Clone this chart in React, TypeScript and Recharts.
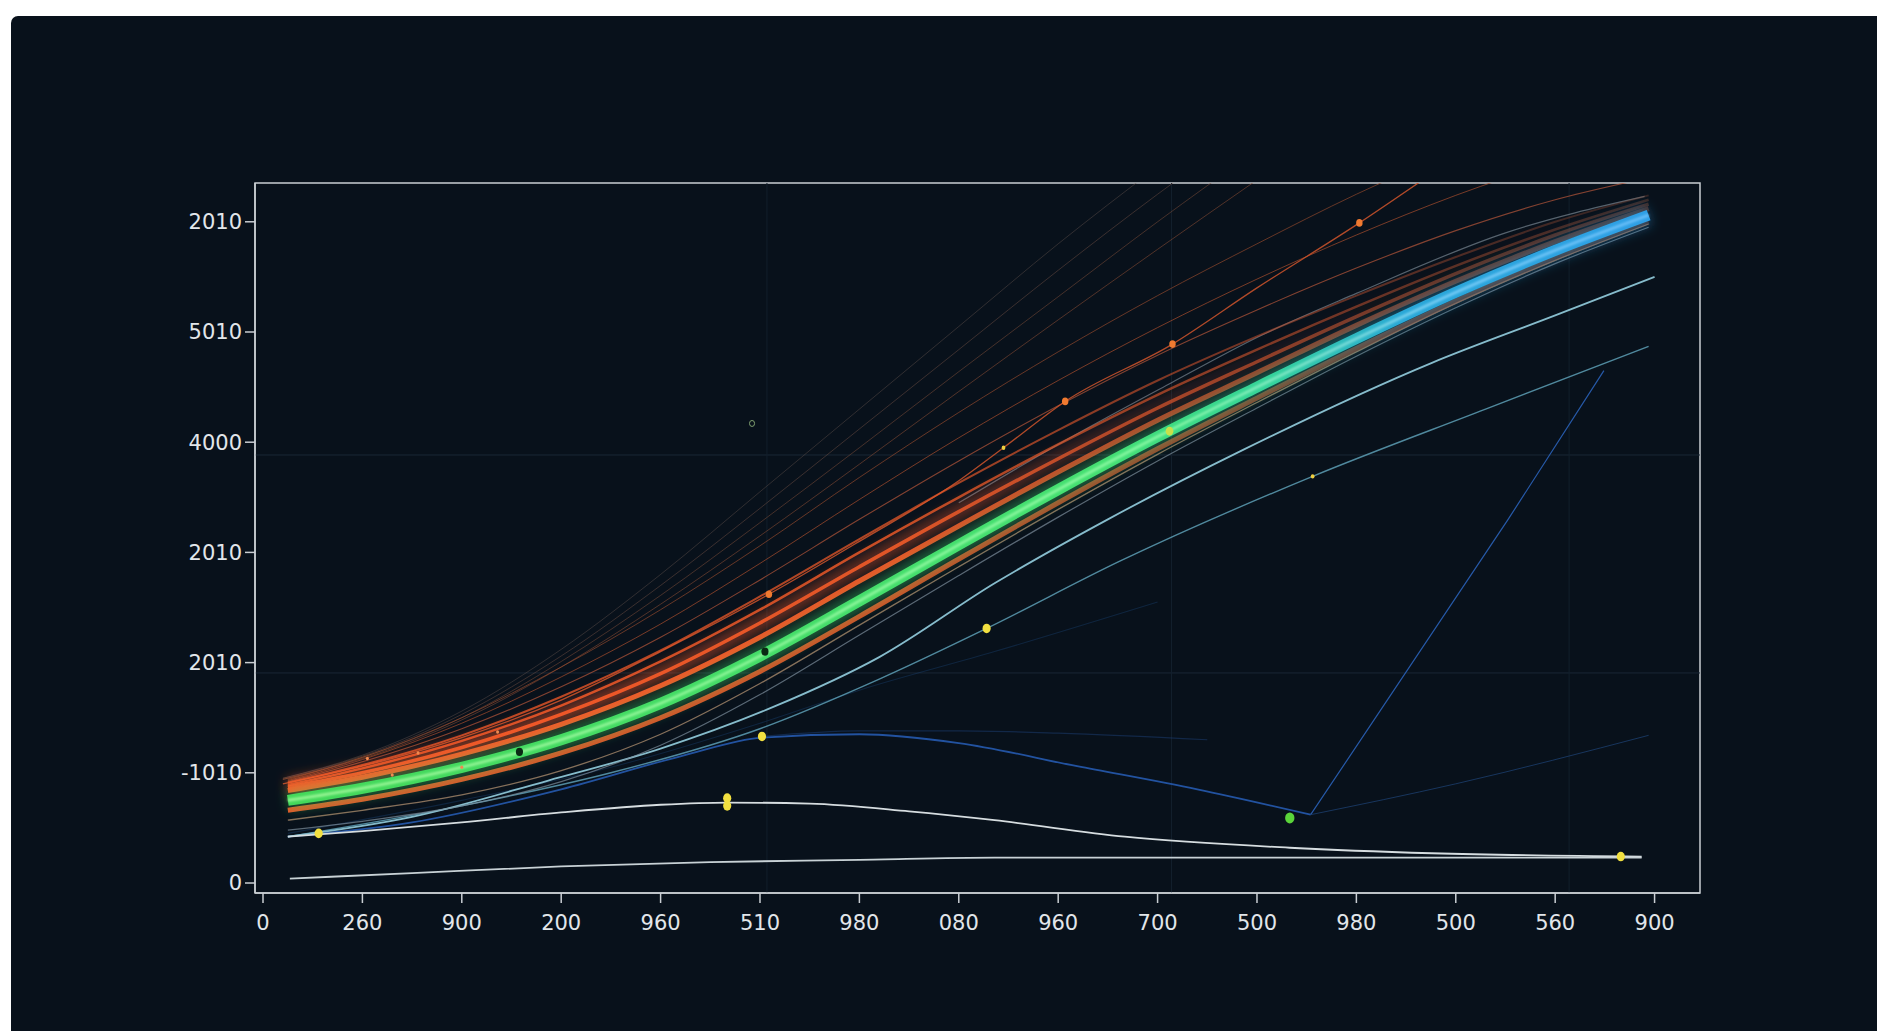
import React from 'react';
import { ComposedChart, Line, Scatter, XAxis, YAxis, ReferenceArea, ReferenceLine } from 'recharts';

// ---- axis ticks / labels ----
const X_TICKS = [0, 1, 2, 3, 4, 5, 6, 7, 8, 9, 10, 11, 12, 13, 14];
const X_LABELS = ['0', '260', '900', '200', '960', '510', '980', '080', '960', '700', '500', '980', '500', '560', '900'];
const Y_TICKS = [0, 1, 2, 3, 4, 5, 6];
const Y_LABELS = ['0', '-1010', '2010', '2010', '4000', '5010', '2010'];
const GRID_Y = [1.906, 3.884];
const GRID_X = [5.07, 9.14, 13.14];

// ---- main band ----
const BAND_X = [0.25, 1, 2, 3, 4, 5, 6, 7, 8, 9, 10, 11, 12, 13, 13.94];
const GREEN_Y = [0.75, 0.86, 1.05, 1.3, 1.63, 2.06, 2.56, 3.07, 3.57, 4.05, 4.5, 4.94, 5.36, 5.74, 6.06];
const ORANGE_LOW_Y = [0.66, 0.76, 0.94, 1.18, 1.5, 1.92, 2.42, 2.94, 3.45, 3.94, 4.4, 4.85, 5.28, 5.67, 6.0];
const ORANGE_A_Y = [0.84, 0.96, 1.17, 1.44, 1.79, 2.23, 2.74, 3.24, 3.73, 4.2, 4.63, 5.06, 5.46, 5.82, 6.12];
const ORANGE_B_Y = [0.87, 1.0, 1.23, 1.53, 1.9, 2.36, 2.87, 3.37, 3.85, 4.31, 4.73, 5.14, 5.53, 5.88, 6.16];
const ORANGE_C_Y = [0.89, 1.04, 1.29, 1.61, 2.01, 2.48, 3.0, 3.5, 3.98, 4.43, 4.84, 5.23, 5.6, 5.93, 6.2];
const ORANGE_D_Y = [0.91, 1.07, 1.34, 1.69, 2.11, 2.6, 3.12, 3.63, 4.11, 4.56, 4.96, 5.33, 5.68, 6.0, 6.24];
const ORANGE_E_Y = [0.92, 1.1, 1.4, 1.78, 2.23, 2.75, 3.3, 3.83, 4.33, 4.79, 5.2, 5.58, 5.92, 6.2, 6.4];
const ORANGE_F_Y = [0.93, 1.12, 1.45, 1.87, 2.35, 2.9, 3.48, 4.04, 4.56, 5.04, 5.48, 5.88, 6.24, 6.55];
const ORANGE_G_Y = [0.94, 1.14, 1.5, 1.96, 2.48, 3.06, 3.68, 4.27, 4.82, 5.33, 5.8, 6.25, 6.65];
const TAN_Y = [0.57, 0.66, 0.8, 1.02, 1.35, 1.81, 2.34, 2.87, 3.39, 3.89, 4.36, 4.82, 5.26, 5.65, 5.98];
const SLATE_Y = [0.48, 0.56, 0.7, 0.92, 1.25, 1.71, 2.25, 2.79, 3.32, 3.83, 4.31, 4.78, 5.22, 5.62, 5.95];

// ---- faint fan lines and the dotted orange line ----
const FAN_X = [0.2, 1, 2, 3, 4, 5, 6, 7, 8, 9, 10, 11];
const FAN1_Y = [0.95, 1.16, 1.56, 2.12, 2.8, 3.55, 4.3, 5.05, 5.8, 6.5];
const FAN2_Y = [0.95, 1.15, 1.53, 2.06, 2.7, 3.4, 4.12, 4.84, 5.56, 6.25, 6.9];
const FAN3_Y = [0.94, 1.14, 1.5, 2.01, 2.61, 3.27, 3.95, 4.64, 5.32, 6.0, 6.65];
const FAN4_Y = [0.94, 1.13, 1.48, 1.96, 2.53, 3.15, 3.8, 4.46, 5.11, 5.75, 6.38];
const DOT_LINE_X = [0.2, 1, 2, 3, 4, 5.09, 6, 7, 7.45, 8.07, 9.15, 10, 11.03, 11.7];
const DOT_LINE_Y = [0.9, 1.06, 1.32, 1.66, 2.1, 2.62, 3.1, 3.65, 3.95, 4.37, 4.89, 5.4, 5.99, 6.4];
const GRAY_UP_X = [7, 8, 9.14, 10, 11, 12.5, 13.9];
const GRAY_UP_Y = [3.45, 3.98, 4.54, 4.95, 5.35, 5.9, 6.23];

// ---- teal / blue lines ----
const TEAL1_X = [0.25, 1.5, 2.87, 4, 5.14, 6.2, 7.36, 8.5, 9.86, 11.76, 13, 14.0];
const TEAL1_Y = [0.42, 0.6, 0.93, 1.22, 1.6, 2.05, 2.72, 3.3, 3.93, 4.72, 5.15, 5.5];
const TEAL2_X = [0.25, 2, 3.5, 5, 6.2, 7.28, 8.62, 10.56, 12.3, 13.94];
const TEAL2_Y = [0.42, 0.7, 1.0, 1.4, 1.85, 2.31, 2.92, 3.69, 4.3, 4.87];
const BLUE_FAINT_X = [0.25, 2, 3.5, 5, 6, 7.36, 9];
const BLUE_FAINT_Y = [0.45, 0.75, 1.05, 1.45, 1.75, 2.1, 2.55];
const BLUE1_X = [0.25, 1.5, 3, 4.2, 5.02, 6, 7, 8.19, 9.4, 10.54];
const BLUE1_Y = [0.42, 0.55, 0.85, 1.15, 1.32, 1.35, 1.27, 1.06, 0.85, 0.62];
const BLUE2_X = [5.02, 6, 7, 8, 9.5];
const BLUE2_Y = [1.33, 1.38, 1.38, 1.36, 1.3];
const V_UP_X = [10.54, 12.52, 13.49];
const V_UP_Y = [0.62, 3.29, 4.65];
const V_RIGHT_X = [10.54, 12, 13.94];
const V_RIGHT_Y = [0.62, 0.9, 1.34];

// ---- white lines ----
const WHITE1_X = [0.25, 1, 2, 3, 4, 4.67, 5.5, 6.5, 7.36, 8.67, 10.33, 11.76, 13.87];
const WHITE1_Y = [0.42, 0.47, 0.55, 0.64, 0.71, 0.73, 0.72, 0.65, 0.57, 0.42, 0.32, 0.27, 0.24];
const WHITE2_X = [0.27, 1.5, 3, 4.5, 6, 7.36, 10, 13.87];
const WHITE2_Y = [0.04, 0.09, 0.15, 0.19, 0.21, 0.23, 0.23, 0.23];

// ---- dots ----
const YELLOW_DOTS = [[0.56, 0.45], [4.67, 0.77], [4.67, 0.7], [5.02, 1.33], [7.28, 2.31], [13.66, 0.24]];
const SMALL_YELLOW_DOTS = [[10.56, 3.69], [7.45, 3.95]];
const ORANGE_DOTS = [[8.07, 4.37], [9.15, 4.89], [11.03, 5.99], [5.09, 2.62]];
const TINY_ORANGE_DOTS = [[1.05, 1.13], [1.56, 1.18], [2.36, 1.37], [1.3, 0.98], [2.0, 1.05]];
const DARK_DOTS = [[5.05, 2.1], [2.58, 1.19]];
const GREEN_DOTS = [[10.33, 0.59]];
const LIME_DOTS = [[9.12, 4.1]];
const HOLLOW_DOTS = [[4.92, 4.17]];

const zip = (xs: number[], ys: number[]) => ys.slice(0, xs.length).map((y, i) => ({ x: xs[i], y }));
const pts = (p: number[][]) => p.map(([x, y]) => ({ x, y }));

const X_DOMAIN: [number, number] = [-0.0805, 14.457];
const Y_DOMAIN: [number, number] = [-0.0907, 6.352];
const FRAME = '#c9ced3';
const FONT = '"DejaVu Sans", Roboto, sans-serif';

function ln(key: string, data: any[], stroke: string, width: number, opacity = 1, extra: any = {}) {
  return (
    <Line
      key={key}
      data={data}
      dataKey="y"
      type="monotone"
      stroke={stroke}
      strokeWidth={width}
      strokeOpacity={opacity}
      dot={false}
      activeDot={false}
      isAnimationActive={false}
      legendType="none"
      {...extra}
    />
  );
}

function dots(key: string, data: number[][], fill: string, r: number, stroke = 'none') {
  return (
    <Scatter
      key={key}
      data={pts(data)}
      dataKey="y"
      isAnimationActive={false}
      shape={(p: any) => <ellipse cx={p.cx} cy={p.cy} rx={r * 0.85} ry={r} fill={fill} stroke={stroke} strokeWidth={1} />}
    />
  );
}

export default function App() {
  return (
    <div>
      <div
        style={{
          position: 'fixed',
          left: 11,
          top: 16,
          right: 0,
          bottom: 0,
          background: '#08111b',
          borderTopLeftRadius: 7,
        }}
      />
      <div style={{ position: 'fixed', left: 0, top: 0, width: 1877, height: 1031 }}>
        <ComposedChart width={1877} height={1031} margin={{ top: 183, right: 177, left: 0, bottom: 78 }}>
          <defs>
            <filter id="glow" x="-20%" y="-20%" width="140%" height="140%">
              <feGaussianBlur stdDeviation="6" />
            </filter>
            <filter id="soft" x="-20%" y="-20%" width="140%" height="140%">
              <feGaussianBlur stdDeviation="1.2" />
            </filter>
            <linearGradient id="bandGrad" x1="0" y1="0" x2="1" y2="0">
              <stop offset="0" stopColor="#44d85a" />
              <stop offset="0.6" stopColor="#45e072" />
              <stop offset="0.72" stopColor="#35d49a" />
              <stop offset="0.82" stopColor="#2aa8d8" />
              <stop offset="1" stopColor="#2f9fe6" />
            </linearGradient>
            <linearGradient id="hiGrad" x1="0" y1="0" x2="1" y2="0">
              <stop offset="0" stopColor="#b6ffa8" />
              <stop offset="0.65" stopColor="#9dffb0" />
              <stop offset="0.85" stopColor="#8fd8ff" />
              <stop offset="1" stopColor="#7ec8ff" />
            </linearGradient>
            <linearGradient id="orangeGrad" x1="0" y1="0" x2="1" y2="0">
              <stop offset="0" stopColor="#ff5a28" stopOpacity="1" />
              <stop offset="0.45" stopColor="#f05a28" stopOpacity="0.95" />
              <stop offset="0.72" stopColor="#c24e2c" stopOpacity="0.75" />
              <stop offset="1" stopColor="#8a4a34" stopOpacity="0.45" />
            </linearGradient>
            <linearGradient id="orangeFade" x1="0" y1="0" x2="1" y2="0">
              <stop offset="0" stopColor="#ff5a28" stopOpacity="0.9" />
              <stop offset="0.5" stopColor="#e8552a" stopOpacity="0.6" />
              <stop offset="0.75" stopColor="#a04a30" stopOpacity="0.15" />
              <stop offset="1" stopColor="#a04a30" stopOpacity="0" />
            </linearGradient>
          </defs>

          <XAxis
            dataKey="x"
            type="number"
            domain={X_DOMAIN}
            allowDataOverflow
            ticks={X_TICKS}
            interval={0}
            height={60}
            tickSize={10}
            tickMargin={12}
            axisLine={{ stroke: FRAME, strokeWidth: 1.5 }}
            tickLine={{ stroke: FRAME, strokeWidth: 1.5 }}
            tick={{ fill: '#e2e6ea', fontSize: 21, fontFamily: FONT }}
            tickFormatter={(v: number) => X_LABELS[Math.round(v)]}
          />
          <YAxis
            dataKey="y"
            type="number"
            domain={Y_DOMAIN}
            allowDataOverflow
            ticks={Y_TICKS}
            interval={0}
            width={255}
            tickSize={10}
            tickMargin={3}
            axisLine={{ stroke: FRAME, strokeWidth: 1.5 }}
            tickLine={{ stroke: FRAME, strokeWidth: 1.5 }}
            tick={{ fill: '#e2e6ea', fontSize: 21, fontFamily: FONT }}
            tickFormatter={(v: number) => Y_LABELS[Math.round(v)]}
          />

          {GRID_Y.map((y) => (
            <ReferenceLine key={'gy' + y} y={y} stroke="#1a2736" strokeWidth={1} />
          ))}
          {GRID_X.map((x) => (
            <ReferenceLine key={'gx' + x} x={x} stroke="#121f2c" strokeWidth={1} />
          ))}
          <ReferenceArea
            x1={X_DOMAIN[0]}
            x2={X_DOMAIN[1]}
            y1={Y_DOMAIN[0]}
            y2={Y_DOMAIN[1]}
            fill="none"
            fillOpacity={0}
            stroke={FRAME}
            strokeWidth={1.5}
            strokeOpacity={1}
          />

          {/* faint fan */}
          {ln('f1', zip(FAN_X, FAN1_Y), '#6e5a52', 1, 0.4)}
          {ln('f2', zip(FAN_X, FAN2_Y), '#7a5446', 1, 0.45)}
          {ln('f3', zip(FAN_X, FAN3_Y), '#84503a', 1, 0.5)}
          {ln('f4', zip(FAN_X, FAN4_Y), '#8e4e34', 1, 0.55)}
          {ln('og', zip(BAND_X, ORANGE_G_Y), '#a5502e', 1, 0.6)}
          {ln('of', zip(BAND_X, ORANGE_F_Y), '#b4522e', 1, 0.65)}
          {ln('oe', zip(BAND_X, ORANGE_E_Y), '#b8573a', 1.1, 0.7)}
          {ln('dotl', zip(DOT_LINE_X, DOT_LINE_Y), '#d0552c', 1.3, 0.85)}
          {ln('gu', zip(GRAY_UP_X, GRAY_UP_Y), '#8a9aa5', 1.2, 0.6)}

          {/* blue / teal */}
          {ln('bf', zip(BLUE_FAINT_X, BLUE_FAINT_Y), '#1e4a80', 1.1, 0.35)}
          {ln('b1', zip(BLUE1_X, BLUE1_Y), '#2456a8', 1.8, 0.95)}
          {ln('b2', zip(BLUE2_X, BLUE2_Y), '#1e4580', 1.2, 0.45)}
          {ln('vu', zip(V_UP_X, V_UP_Y), '#2a62b8', 1.2, 0.9, { type: 'linear' })}
          {ln('vr', zip(V_RIGHT_X, V_RIGHT_Y), '#1c3f6e', 1, 0.8)}
          {ln('t2', zip(TEAL2_X, TEAL2_Y), '#5d9fb5', 1.4, 0.85)}
          {ln('t1', zip(TEAL1_X, TEAL1_Y), '#86bccc', 1.8, 1)}

          {/* white */}
          {ln('w1', zip(WHITE1_X, WHITE1_Y), '#d6dde0', 1.8, 1)}
          {ln('w2', zip(WHITE2_X, WHITE2_Y), '#c8d2d6', 1.8, 1)}

          {/* band */}
          {ln('slate', zip(BAND_X, SLATE_Y), '#7d8f9c', 1.2, 0.7)}
          {ln('tan', zip(BAND_X, TAN_Y), '#b09070', 1.3, 0.75)}
          {ln('oglow', zip(BAND_X, ORANGE_B_Y), 'url(#orangeFade)', 16, 0.6, { filter: 'url(#glow)' })}
          {ln('od', zip(BAND_X, ORANGE_D_Y), 'url(#orangeGrad)', 2, 0.75)}
          {ln('oc', zip(BAND_X, ORANGE_C_Y), 'url(#orangeGrad)', 2.5, 0.85)}
          {ln('ob', zip(BAND_X, ORANGE_B_Y), 'url(#orangeGrad)', 3.5, 0.95)}
          {ln('oa', zip(BAND_X, ORANGE_A_Y), 'url(#orangeGrad)', 5, 1)}
          {ln('olow', zip(BAND_X, ORANGE_LOW_Y), 'url(#orangeGrad)', 5, 0.9)}
          {ln('gglow', zip(BAND_X, GREEN_Y), 'url(#bandGrad)', 20, 0.4, { filter: 'url(#glow)' })}
          {ln('green', zip(BAND_X, GREEN_Y), 'url(#bandGrad)', 11, 1)}
          {ln('ghi', zip(BAND_X, GREEN_Y), 'url(#hiGrad)', 3, 0.7, { filter: 'url(#soft)' })}

          {/* dots */}
          {dots('ty', TINY_ORANGE_DOTS, '#f08a50', 1.8)}
          {dots('odt', ORANGE_DOTS, '#f07a30', 3.8)}
          {dots('sy', SMALL_YELLOW_DOTS, '#f0d040', 2.2)}
          {dots('yd', YELLOW_DOTS, '#f2e040', 4.8)}
          {dots('dd', DARK_DOTS, '#0a2a14', 4.2)}
          {dots('gd', GREEN_DOTS, '#5ad43a', 5.5)}
          {dots('ld', LIME_DOTS, '#c8e04a', 4.5)}
          {dots('hd', HOLLOW_DOTS, 'none', 3, '#7fa070')}
        </ComposedChart>
      </div>
    </div>
  );
}
